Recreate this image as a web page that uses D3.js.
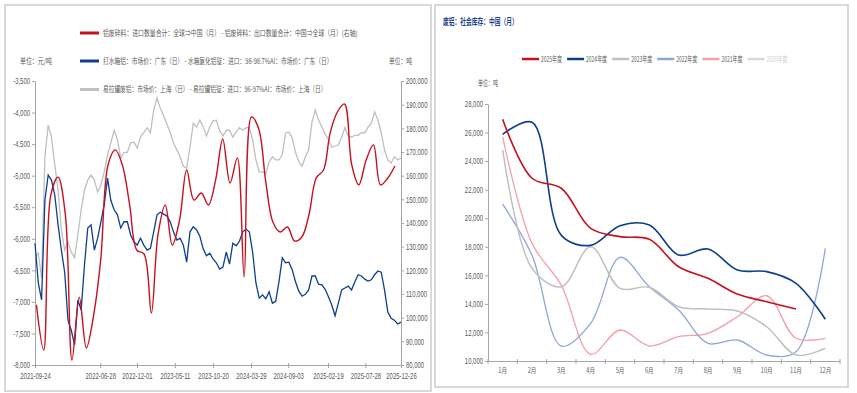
<!DOCTYPE html>
<html>
<head>
<meta charset="utf-8">
<script src="https://cdn.jsdelivr.net/npm/d3@7"></script>
<style>
  body { margin: 0; background: #fff; }
</style>
</head>
<body>
<svg id="chart" width="857" height="393"></svg>
<script>
// ---- left chart data ----
// red: monthly net import of aluminium scrap (right axis), Sep 2021 .. Nov 2025
const netImport = [105400, 86350, 151800, 159400, 143400, 82100, 108700, 87200, 101100, 124400,
  164500, 170900, 164500, 147600, 128600, 126900, 102000, 134900, 147600, 130700,
  141300, 162400, 149700, 152700, 147600, 158200, 175500, 156900, 167500, 117200,
  184800, 180100, 157300, 140400, 136200, 138300, 132400, 134100, 143400, 159000,
  162400, 178000, 186900, 190300, 164500, 156100, 166600, 173000, 156100, 159000, 164100];

// blue + grey: price spreads sampled every 14 days from 2021-09-24
const radiatorSpread = [-6070, -6700, -6970, -5390, -4990, -5070, -5310, -5780, -6180, -6530,
  -7290, -7450, -7680, -6970, -7130, -6420, -5830, -5780, -6180, -5990,
  -5730, -5460, -5040, -5390, -5540, -5620, -5830, -5730, -5730, -5940,
  -6050, -6100, -5990, -6100, -6180, -6150, -5890, -5620, -5580, -5610,
  -5640, -5730, -5890, -6020, -5990, -6100, -6370, -5890, -5810, -5860,
  -5960, -6160, -6270, -6230, -6320, -6380, -6480, -6450, -6210, -6400,
  -6070, -6110, -6040, -5890, -5850, -5890, -6210, -6700, -6940, -6890,
  -6950, -6840, -7020, -6990, -6680, -6300, -6380, -6370, -6490, -6680,
  -6830, -6910, -6880, -6810, -6590, -6590, -6720, -6730, -6800, -6920,
  -7050, -7220, -7020, -6810, -6780, -6750, -6810, -6680, -6570, -6590,
  -6640, -6670, -6650, -6570, -6510, -6530, -6810, -7160, -7260, -7290, -7350, -7320];

const canSpread = [-6290, -6230, -6620, -4700, -4200, -4390, -4830, -5230, -5860, -6180,
  -6050, -6210, -6300, -5940, -5540, -5230, -5070, -4990, -5070, -5260,
  -5150, -4940, -4670, -4480, -4280, -4430, -4720, -4630, -4630, -4480,
  -4470, -4560, -4390, -4320, -4240, -4320, -3960, -3770, -3930, -4050,
  -4180, -4320, -4480, -4590, -4700, -4850, -4880, -4550, -4170, -4230,
  -4120, -4230, -4370, -4230, -4130, -4120, -4290, -4370, -4280, -4280,
  -4390, -4310, -4240, -4280, -4240, -4240, -4430, -4750, -4940, -4940,
  -4970, -4780, -4700, -4750, -4750, -4670, -4320, -4310, -4400, -4630,
  -4780, -4850, -4700, -4590, -4150, -3960, -4120, -4230, -4340, -4430,
  -4550, -4530, -4510, -4390, -4240, -4370, -4390, -4360, -4360, -4320,
  -4320, -4230, -4170, -3990, -4120, -4320, -4590, -4750, -4800, -4700, -4750, -4720];

const dateTicks = ["2021-09-24", "2022-06-28", "2022-12-01", "2023-05-11", "2023-10-20",
  "2024-03-29", "2024-09-03", "2025-02-19", "2025-07-28", "2025-12-26"];

const leftLegend = [
  "铝废碎料：进口数量合计：全球⇒中国（月） - 铝废碎料：出口数量合计：中国⇒全球（月）(右轴)",
  "打水箱铝：市场价：广东（日） - 水箱复化铝锭：进口：98-98.7%Al：市场价：广东（日）",
  "易拉罐废铝：市场价：上海（日） - 易拉罐铝锭：进口：96-97%Al：市场价：上海（日）"
];

// ---- right chart data ----
const months = ["1月", "2月", "3月", "4月", "5月", "6月", "7月", "8月", "9月", "10月", "11月", "12月"];
const years = ["2025年度", "2024年度", "2023年度", "2022年度", "2021年度", "2020年度"];
const inv2025 = [26930, 22800, 22100, 19290, 18710, 18520, 16600, 15790, 14690, 14150, 13640];
const inv2024 = [25880, 26720, 18800, 18100, 19480, 19530, 17420, 17840, 16370, 16260, 15440, 12920];
const inv2023 = [24780, 16500, 15200, 18010, 15090, 15160, 13800, 13640, 13500, 12400, 10420, 10890];
const inv2022 = [20980, 17400, 11050, 12640, 17260, 15200, 13570, 11240, 11470, 10420, 10650, 17890];
const inv2021 = [25700, 18240, 15300, 10470, 12170, 11050, 11700, 11940, 13100, 14570, 11590, 11590];

const NUMFONT = '"Liberation Sans",Arial,sans-serif';
const CJK = '"Noto Sans CJK SC","Noto Sans CJK JP",sans-serif';
const AXIS = "#a6a6a6", TXT = "#595959";
const RED = "#c8101e", BLUE = "#0d3e8f", GREY = "#bfbfbf";

const fmt = d3.formatLocale({decimal: ".", thousands: ",", grouping: [3], currency: ["", ""], minus: "-"}).format(",");
const parse = d3.timeParse("%Y-%m-%d");

const svg = d3.select("#chart");

// panel frames
svg.append("rect").attr("x", 5).attr("y", 5).attr("width", 426).attr("height", 386)
   .attr("fill", "none").attr("stroke", "#d9d9d9").attr("stroke-width", 2);
svg.append("rect").attr("x", 435).attr("y", 5).attr("width", 413).attr("height", 382)
   .attr("fill", "none").attr("stroke", "#d9d9d9").attr("stroke-width", 2);

// the original uses a condensed face: squeeze text horizontally with a transform
function squeeze(sel, k) {
  sel.each(function() {
    const x = +this.getAttribute("x") || 0;
    d3.select(this).attr("x", x / k).attr("transform", `scale(${k},1)`);
  });
}
// squeeze a start-anchored text so it is exactly w pixels wide
function fit(t, w) {
  const n = t.node().getComputedTextLength();
  squeeze(t, w / n);
  return t;
}
function styleAxis(g) {
  g.selectAll("path, line").attr("stroke", AXIS);
  g.selectAll("text").attr("fill", TXT).style("font-family", NUMFONT).style("font-size", "8.5px");
  squeeze(g.selectAll("text"), 0.7);
}
function label(x, y, s, w, size, color) {
  const t = svg.append("text").attr("x", x).attr("y", y).text(s)
     .attr("fill", color || TXT).style("font-family", CJK).style("font-size", size + "px");
  return fit(t, w);
}

// ================= left chart =================
const start = parse("2021-09-24");
const xL = d3.scaleTime().domain([start, parse("2025-12-26")]).range([35, 401]);
const yL = d3.scaleLinear().domain([-8000, -3500]).range([365, 81]);
const yR = d3.scaleLinear().domain([80000, 200000]).range([365, 81]);

svg.append("g").attr("transform", "translate(35,0)")
   .call(d3.axisLeft(yL).tickValues(d3.range(-8000, -3400, 500)).tickFormat(fmt).tickSize(3).tickSizeOuter(0).tickPadding(2))
   .call(styleAxis);
svg.append("g").attr("transform", "translate(401,0)")
   .call(d3.axisRight(yR).tickValues(d3.range(80000, 200001, 10000)).tickFormat(fmt).tickSize(3).tickSizeOuter(0).tickPadding(2))
   .call(styleAxis);
const xAxL = svg.append("g").attr("transform", "translate(0,365)")
   .call(d3.axisBottom(xL).tickValues(dateTicks.map(parse)).tickFormat(d3.timeFormat("%Y-%m-%d")).tickSize(3).tickSizeOuter(0).tickPadding(5))
   .call(styleAxis);
xAxL.selectAll(".tick line").attr("y1", -2).attr("y2", 3);

const dailyDates = radiatorSpread.map((d, i) => d3.timeDay.offset(start, i * 14));
const monthDates = netImport.map((d, i) => d3.timeDay.offset(d3.timeMonth.offset(new Date(2021, 9, 1), i), -1));

const lineL = d3.line().x((d, i) => xL(dailyDates[i])).y(d => yL(d));
svg.append("path").datum(canSpread).attr("d", lineL)
   .attr("fill", "none").attr("stroke", GREY).attr("stroke-width", 1.3);
svg.append("path").datum(radiatorSpread).attr("d", lineL)
   .attr("fill", "none").attr("stroke", BLUE).attr("stroke-width", 1.3);
svg.append("path").datum(netImport)
   .attr("d", d3.line().x((d, i) => xL(monthDates[i])).y(d => yR(d)).curve(d3.curveCatmullRom))
   .attr("fill", "none").attr("stroke", RED).attr("stroke-width", 1.4);

// left legend
const legL = [[RED, 33, 255], [BLUE, 61, 230], [GREY, 89.5, 224]];
legL.forEach(([c, y, w], i) => {
  svg.append("line").attr("x1", 80).attr("x2", 99).attr("y1", y).attr("y2", y)
     .attr("stroke", c).attr("stroke-width", 3);
  label(103, y + 3, leftLegend[i], w, 8);
});
label(20, 64, "单位：元/吨", 32, 8);
label(389, 64, "单位：吨", 23, 8);

// ================= right chart =================
const xM = d3.scaleBand().domain(months).range([488, 840]);
const yM = d3.scaleLinear().domain([10000, 28000]).range([361, 104]);

svg.append("g").attr("transform", "translate(488,0)")
   .call(d3.axisLeft(yM).tickValues(d3.range(10000, 28001, 2000)).tickFormat(fmt).tickSize(3).tickSizeOuter(0).tickPadding(2))
   .call(styleAxis);
const xAxM = svg.append("g").attr("transform", "translate(0,361)")
   .call(d3.axisBottom(xM).tickSize(0).tickSizeOuter(0).tickPadding(7));
xAxM.selectAll("path").attr("stroke", AXIS);
xAxM.selectAll(".tick text").attr("fill", TXT).style("font-family", CJK).style("font-size", "7px");
squeeze(xAxM.selectAll(".tick text"), 0.8);
xAxM.selectAll(".bound").data(months.map(m => xM(m)).concat([840])).enter()
   .append("line").attr("x1", d => d).attr("x2", d => d).attr("y1", -2).attr("y2", 3).attr("stroke", AXIS);

const yearColors = [RED, BLUE, "#c0c0c0", "#8ea6d6", "#f3a0aa", "#d9d9d9"];
const series = [
  {data: inv2021, color: yearColors[4], w: 1.3},
  {data: inv2022, color: yearColors[3], w: 1.3},
  {data: inv2023, color: yearColors[2], w: 1.5},
  {data: inv2024, color: yearColors[1], w: 1.6},
  {data: inv2025, color: yearColors[0], w: 1.6}
];
const lineM = d3.line().x((d, i) => xM(months[i]) + xM.bandwidth() / 2).y(d => yM(d)).curve(d3.curveCatmullRom);
series.forEach(s => {
  svg.append("path").datum(s.data).attr("d", lineM)
     .attr("fill", "none").attr("stroke", s.color).attr("stroke-width", s.w);
});

// right title + legend
label(443, 25, "废铝：社会库存：中国（月）", 75, 9, "#1f3f8f").style("font-weight", "bold");
years.forEach((y, i) => {
  const x0 = 522 + i * 45.1;
  svg.append("line").attr("x1", x0).attr("x2", x0 + 17).attr("y1", 59).attr("y2", 59)
     .attr("stroke", yearColors[i]).attr("stroke-width", 2.5);
  label(x0 + 19, 62, y, 21, 7.5, i === 5 ? "#cfcfcf" : TXT);
});
label(478, 86, "单位：吨", 20, 7.5);
</script>
</body>
</html>
